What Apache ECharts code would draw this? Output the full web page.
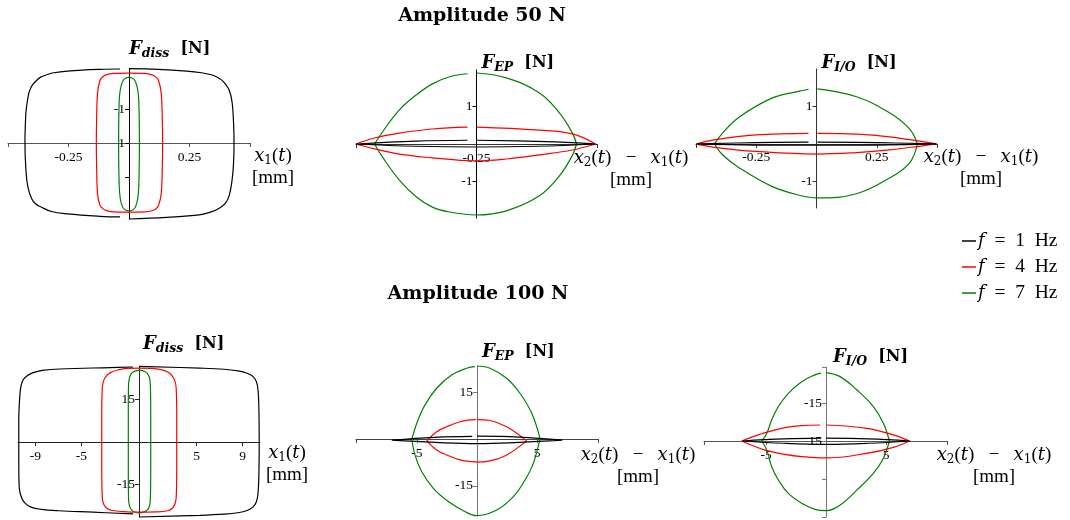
<!DOCTYPE html>
<html>
<head>
<meta charset="utf-8">
<script src="https://cdn.jsdelivr.net/npm/echarts@6/dist/echarts.min.js"></script>
<style>
  html, body { margin: 0; padding: 0; background: #fff; }
  #chart { width: 1070px; height: 520px; }
</style>
</head>
<body>
<div id="chart"></div>
<script>
// ---------- legend ----------
const freqNames = ['f = 1 Hz', 'f = 4 Hz', 'f = 7 Hz'];
const freqColors = ['#000000', '#ff0000', '#008000'];

// ---------- axis ranges, ticks and tick labels ----------
// Amplitude 50 N : dissipative force vs x1
const dissX50Range = [-0.5, 0.5];
const dissY50Range = [-2.24, 2.18];
const dissX50Ticks = [-0.5, -0.25, 0.25, 0.5];
const dissX50LabelAt = [-0.25, 0.25];
const dissX50Labels = ['-0.25', '0.25'];
const dissY50Ticks = [1, 0, -1];
const dissY50LabelAt = [1, 0];
const dissY50Labels = ['-1', '1'];

// Amplitude 50 N : F_EP vs x2 - x1
const epX50Range = [-0.5, 0.5];
const epY50Range = [-1.97, 1.97];
const epX50Ticks = [-0.5, 0.5];
const epX50LabelAt = [0];
const epX50Labels = ['-0.25'];
const epY50Ticks = [1, -1];
const epY50LabelAt = [1, -1];
const epY50Labels = ['1', '-1'];

// Amplitude 50 N : F_I/O vs x2 - x1
const ioX50Range = [-0.5, 0.5];
const ioY50Range = [-1.71, 2.0];
const ioX50Ticks = [-0.5, -0.25, 0.25, 0.5];
const ioX50LabelAt = [-0.25, 0.25];
const ioX50Labels = ['-0.25', '0.25'];
const ioY50Ticks = [1, -1];
const ioY50LabelAt = [1, -1];
const ioY50Labels = ['1', '-1'];

// Amplitude 100 N : dissipative force vs x1
const dissX100Range = [-10.52, 10.52];
const dissY100Range = [-26.5, 26.5];
const dissX100Ticks = [-9, -5, 5, 9];
const dissX100LabelAt = [-9, -5, 5, 9];
const dissX100Labels = ['-9', '-5', '5', '9'];
const dissY100Ticks = [15, -15];
const dissY100LabelAt = [15, -15];
const dissY100Labels = ['15', '-15'];

// Amplitude 100 N : F_EP vs x2 - x1
const epX100Range = [-10.08, 10.08];
const epY100Range = [-24.6, 23.3];
const epX100Ticks = [-10.08, -5, 5, 10.08];
const epX100LabelAt = [-5, 5];
const epX100Labels = ['-5', '5'];
const epY100Ticks = [15, -15];
const epY100LabelAt = [15, -15];
const epY100Labels = ['15', '-15'];

// Amplitude 100 N : F_I/O vs x2 - x1
const ioX100Range = [-10.17, 10.08];
const ioY100Range = [-30, 29.2];
const ioX100Ticks = [-10.17, -5, 5, 10.08];
const ioX100LabelAt = [-5, 5];
const ioX100Labels = ['-5', '5'];
const ioY100Ticks = [29.2, 15, 0, -15, -30];
const ioY100LabelAt = [15, 0];
const ioY100Labels = ['-15', '15'];

// ---------- hysteresis loops: [displacement, force] ----------
// Amplitude 50 N, dissipative force
const diss50F1 = [
  [0, 2.19], [0.12, 2.17], [0.238, 2.12], [0.30, 2.07], [0.34, 2.01], [0.361, 1.95], [0.382, 1.86],
  [0.398, 1.74], [0.414, 1.56], [0.426, 1.2], [0.432, 0.6], [0.434, 0], [0.432, -0.6], [0.426, -1.09],
  [0.414, -1.55], [0.398, -1.78], [0.373, -1.92], [0.34, -2.03], [0.291, -2.12], [0.156, -2.19], [0, -2.24],
  null,
  [-0.037, -2.18], [-0.119, -2.16], [-0.254, -2.09], [-0.32, -2.02], [-0.365, -1.88], [-0.385, -1.8],
  [-0.402, -1.64], [-0.418, -1.29], [-0.426, -0.79], [-0.430, 0], [-0.428, 0.6], [-0.425, 0.97],
  [-0.414, 1.47], [-0.403, 1.66], [-0.393, 1.76], [-0.381, 1.85], [-0.365, 1.94], [-0.34, 2.01],
  [-0.311, 2.07], [-0.254, 2.12], [-0.119, 2.17], [-0.037, 2.18]
];
const diss50F4 = [
  [0, 2.06], [0.066, 2.05], [0.098, 2.0], [0.112, 1.94], [0.122, 1.84], [0.133, 1.47], [0.138, 0.6],
  [0.139, 0], [0.138, -0.6], [0.133, -1.5], [0.122, -1.84], [0.112, -1.94], [0.098, -1.99],
  [0.066, -2.03], [0, -2.04], [-0.066, -2.03], [-0.098, -1.98], [-0.11, -1.92], [-0.12, -1.84],
  [-0.130, -1.5], [-0.134, -0.6], [-0.135, 0], [-0.134, 0.6], [-0.130, 1.47], [-0.12, 1.84],
  [-0.11, 1.94], [-0.098, 2.0], [-0.066, 2.05], [0, 2.06]
];
const diss50F7 = [
  [0, 1.94], [0.02, 1.88], [0.032, 1.7], [0.039, 1.4], [0.042, 0.8], [0.043, 0], [0.042, -0.8],
  [0.039, -1.45], [0.032, -1.78], [0.02, -1.95], [0, -2.0], [-0.02, -1.95], [-0.032, -1.78],
  [-0.039, -1.45], [-0.042, -0.8], [-0.043, 0], [-0.042, 0.8], [-0.039, 1.4], [-0.032, 1.7],
  [-0.02, 1.88], [0, 1.94]
];

// Amplitude 50 N, F_EP
const ep50F1 = [
  [0, 0.1], [0.25, 0.07], [0.42, 0.03], [0.495, 0], null,
  [0.495, 0], [0.25, -0.06], [0, -0.08], [-0.25, -0.06], [-0.5, 0], null,
  [-0.5, 0], [-0.25, 0.075], [-0.037, 0.1]
];
const ep50F4 = [
  [0, 0.45], [0.261, 0.37], [0.398, 0.27], [0.494, 0], null,
  [0.494, 0], [0.398, -0.16], [0.261, -0.29], [0.124, -0.4], [0, -0.45], [-0.037, -0.445],
  [-0.183, -0.37], [-0.32, -0.27], [-0.423, -0.13], [-0.5, 0], null,
  [-0.5, 0], [-0.423, 0.16], [-0.32, 0.29], [-0.183, 0.4], [-0.037, 0.45]
];
const ep50F7 = [
  [0, 1.89], [0.124, 1.76], [0.261, 1.36], [0.344, 0.83], [0.398, 0.29], [0.415, 0], null,
  [0.415, 0], [0.398, -0.3], [0.344, -0.85], [0.261, -1.38], [0.124, -1.78], [0, -1.89],
  [-0.112, -1.81], [-0.183, -1.68], [-0.249, -1.41], [-0.32, -0.96], [-0.39, -0.35], [-0.423, 0], null,
  [-0.423, 0], [-0.39, 0.32], [-0.32, 0.91], [-0.249, 1.31], [-0.183, 1.6], [-0.112, 1.79], [-0.037, 1.87]
];

// Amplitude 50 N, F_I/O
const io50F1 = [
  [0.004, 0.05], [0.25, 0.035], [0.498, 0], null,
  [0.498, 0], [0.25, -0.03], [0, -0.035], [-0.25, -0.03], [-0.498, 0], null,
  [-0.498, 0], [-0.25, 0.035], [-0.033, 0.05]
];
const io50F4 = [
  [0.004, 0.28], [0.166, 0.26], [0.303, 0.19], [0.44, 0.06], [0.498, 0], null,
  [0.498, 0], [0.44, -0.05], [0.303, -0.16], [0.166, -0.23], [0.004, -0.27], [-0.25, -0.2],
  [-0.425, -0.09], [-0.498, 0], null,
  [-0.498, 0], [-0.425, 0.11], [-0.25, 0.24], [-0.033, 0.28]
];
const io50F7 = [
  [0.004, 1.47], [0.166, 1.26], [0.303, 0.83], [0.386, 0.4], [0.419, 0], null,
  [0.419, 0], [0.386, -0.51], [0.303, -0.91], [0.166, -1.33], [0.004, -1.44], [-0.071, -1.37],
  [-0.183, -1.14], [-0.32, -0.64], [-0.39, -0.29], [-0.423, 0], null,
  [-0.423, 0], [-0.39, 0.29], [-0.32, 0.72], [-0.183, 1.23], [-0.071, 1.41], [-0.033, 1.46]
];

// Amplitude 100 N, dissipative force
const diss100F1 = [
  [0, 26.7], [5.3, 26.1], [7.4, 25.7], [8.6, 25.1], [9.4, 24.3], [9.9, 23.2], [10.2, 21.4],
  [10.35, 18.4], [10.43, 10], [10.45, 0], [10.43, -10], [10.35, -18], [10.2, -21.2], [9.9, -23],
  [9.4, -24.2], [8.6, -25], [7.4, -25.5], [5.3, -25.9], [0, -26.5],
  null,
  [-0.52, -25.4], [-4.0, -24.8], [-7.0, -24.3], [-8.5, -23.8], [-9.4, -23.0], [-9.91, -21.6],
  [-10.2, -19.8], [-10.41, -16.3], [-10.45, -8], [-10.45, 0], [-10.45, 8], [-10.41, 13.1],
  [-10.29, 19.1], [-10.1, 21.7], [-9.75, 23.3], [-9.2, 24.5], [-8.4, 25.3], [-6.87, 25.8],
  [-2.52, 26.3], [-0.52, 26.5]
];
const diss100F4 = [
  [0, 26.1], [1.07, 26.0], [1.9, 25.6], [2.5, 24.7], [2.9, 23.3], [3.13, 21.4], [3.23, 19.1],
  [3.28, 10], [3.28, 0], [3.28, -10], [3.23, -19.8], [3.12, -21.9], [2.9, -23.4], [2.5, -24.3],
  [1.4, -24.7], [0, -24.8], [-1.37, -24.6], [-2.3, -24.2], [-2.8, -23.4], [-3.08, -21.9],
  [-3.19, -19.8], [-3.24, -10], [-3.24, 0], [-3.24, 10], [-3.19, 19.1], [-3.08, 21.6],
  [-2.85, 23.3], [-2.45, 24.6], [-1.8, 25.5], [-1.07, 26.0], [0, 26.1]
];
const diss100F7 = [
  [0, 25.4], [0.5, 24.9], [0.78, 23.9], [0.93, 22.3], [0.99, 20], [1.02, 10], [1.02, 0], [1.02, -10],
  [0.99, -20], [0.93, -22.2], [0.78, -23.8], [0.5, -24.6], [0, -25.1], [-0.5, -24.5], [-0.72, -23.6],
  [-0.85, -22.2], [-0.91, -20], [-0.93, -10], [-0.93, 0], [-0.93, 10], [-0.91, 20], [-0.85, 22.3],
  [-0.72, 23.8], [-0.49, 24.8], [0, 25.4]
];

// Amplitude 100 N, F_EP
const ep100F1 = [
  [0, 0.9], [3.5, 0.6], [7.1, -0.4], null,
  [7.1, -0.4], [3.5, -1.1], [0, -1.5], [-3.5, -1.1], [-7.1, -0.4], null,
  [-7.1, -0.4], [-3.5, 0.5], [-0.4, 0.8]
];
const ep100F4 = [
  [0, 6.2], [1.08, 5.9], [2.47, 3.9], [4.14, -0.6], null,
  [4.14, -0.6], [2.47, -5.1], [1.08, -7.0], [0, -7.4], [-0.58, -7.2], [-1.42, -6.7], [-2.53, -5.1],
  [-3.36, -3.5], [-4.19, -0.6], null,
  [-4.19, -0.6], [-3.36, 2.3], [-2.53, 3.9], [-1.42, 5.5], [-0.58, 6.1], [-0.1, 6.2]
];
const ep100F7 = [
  [0, 23.3], [1.08, 22.6], [2.47, 19.4], [3.58, 14.6], [4.56, 8.2], [5.25, 0.2], null,
  [5.25, 0.2], [4.69, -7.8], [4.0, -13.1], [3.03, -18.4], [1.64, -22.7], [0, -24.5], [-1.14, -22.9],
  [-2.39, -20.0], [-3.64, -15.8], [-4.61, -10.4], [-5.17, -5.1], [-5.42, 0], null,
  [-5.42, 0], [-4.97, 5.5], [-4.33, 10.9], [-3.36, 16.2], [-2.11, 20.4], [-0.86, 22.6], [-0.17, 23.1]
];

// Amplitude 100 N, F_I/O
const io100F1 = [
  [0, 1.1], [3.5, 0.8], [7, 0], null,
  [7, 0], [3.5, -0.9], [0, -1.3], [-3.5, -0.9], [-7, 0], null,
  [-7, 0], [-3.5, 0.8], [-0.4, 1.1]
];
const io100F4 = [
  [0, 6.3], [3.39, 5.0], [5.61, 2.4], [6.95, 0], null,
  [6.95, 0], [5.61, -2.5], [3.39, -4.9], [0, -6.7], [-2.03, -6.2], [-3.42, -5.3], [-5.08, -3.6],
  [-7.03, 0], null,
  [-7.03, 0], [-5.08, 3.3], [-3.42, 5.3], [-2.03, 6.1], [-0.5, 6.3]
];
const io100F7 = [
  [0, 27.0], [1.17, 25.4], [2.56, 20.2], [3.94, 13.6], [4.78, 7.0], [5.28, 0], null,
  [5.28, 0], [4.78, -6.8], [3.94, -12.8], [2.56, -19.4], [1.17, -25.3], [0, -27.5], [-0.92, -27.0],
  [-2.03, -24.6], [-3.14, -20.7], [-3.97, -15.4], [-4.53, -10.2], [-4.94, -3.6], [-5.36, 0], null,
  [-5.36, 0], [-4.94, 3.0], [-4.53, 8.3], [-3.97, 13.6], [-3.14, 18.8], [-2.03, 23.4], [-0.92, 26.1],
  [-0.42, 26.8]
];

// ---------- text styles ----------
const MATH = 'DejaVu Serif';
const ROMAN = 'Liberation Serif';
const nameRich = {
  mi: { fontFamily: MATH, fontStyle: 'italic', fontSize: 18, lineHeight: 22, color: '#000' },
  sb: { fontFamily: MATH, fontSize: 12, lineHeight: 12, verticalAlign: 'bottom', color: '#000' },
  rm: { fontFamily: ROMAN, fontSize: 19, lineHeight: 22, color: '#000' },
  bi: { fontFamily: MATH, fontStyle: 'italic', fontWeight: 'bold', fontSize: 18, lineHeight: 22, color: '#000' },
  bs: { fontFamily: MATH, fontStyle: 'italic', fontWeight: 'bold', fontSize: 12.5, lineHeight: 12, verticalAlign: 'bottom', color: '#000' },
  bb: { fontFamily: MATH, fontWeight: 'bold', fontSize: 16, lineHeight: 22, color: '#000' }
};
const nameX1 = '{mi|x}{sb|1}{rm|(}{mi|t}{rm|)}\n{rm|[mm]}';
const nameX21 = '{mi|x}{sb|2}{rm|(}{mi|t}{rm|)   −   }{mi|x}{sb|1}{rm|(}{mi|t}{rm|)}\n{rm|[mm]}';
const nameDiss = '{bi|F}{bs|diss}{bb|  [N]}';
const nameEP = '{bi|F}{bs|EP}{bb|  [N]}';
const nameIO = '{bi|F}{bs|I/O}{bb|  [N]}';

// ---------- panel layout (grid boxes in px) ----------
const panels = [
  { box: [8, 69, 250, 219], xr: dissX50Range, yr: dissY50Range,
    xt: dissX50Ticks, xl: [dissX50LabelAt, dissX50Labels], yt: dissY50Ticks, yl: [dissY50LabelAt, dissY50Labels],
    xName: nameX1, xGap: 23, xPad: 2, yName: nameDiss, yGap: 9, yPad: 0,
    xColor: '#555', yColor: '#000', loops: [diss50F1, diss50F4, diss50F7] },
  { box: [356, 70, 597, 218], xr: epX50Range, yr: epY50Range,
    xt: epX50Ticks, xl: [epX50LabelAt, epX50Labels], yt: epY50Ticks, yl: [epY50LabelAt, epY50Labels],
    xName: nameX21, xGap: 34, xPad: 3, yName: nameEP, yGap: -4, yPad: 5,
    xColor: '#333', yColor: '#000', loops: [ep50F1, ep50F4, ep50F7] },
  { box: [696, 69, 937, 208], xr: ioX50Range, yr: ioY50Range,
    xt: ioX50Ticks, xl: [ioX50LabelAt, ioX50Labels], yt: ioY50Ticks, yl: [ioY50LabelAt, ioY50Labels],
    xName: nameX21, xGap: 44, xPad: 2, yName: nameIO, yGap: -5, yPad: 5,
    xColor: '#333', yColor: '#333', loops: [io50F1, io50F4, io50F7] },
  { box: [18, 367, 260, 517], xr: dissX100Range, yr: dissY100Range,
    xt: dissX100Ticks, xl: [dissX100LabelAt, dissX100Labels], yt: dissY100Ticks, yl: [dissY100LabelAt, dissY100Labels],
    xName: nameX1, xGap: 27, xPad: 0, yName: nameDiss, yGap: 12, yPad: 4,
    xColor: '#222', yColor: '#222', loops: [diss100F1, diss100F4, diss100F7] },
  { box: [356, 366, 598, 516], xr: epX100Range, yr: epY100Range,
    xt: epX100Ticks, xl: [epX100LabelAt, epX100Labels], yt: epY100Ticks, yl: [epY100LabelAt, epY100Labels],
    xName: nameX21, xGap: 40, xPad: 5, yName: nameEP, yGap: 3, yPad: 5,
    xColor: '#444', yColor: '#777', loops: [ep100F1, ep100F4, ep100F7] },
  { box: [704, 367, 947, 517], xr: ioX100Range, yr: ioY100Range,
    xt: ioX100Ticks, xl: [ioX100LabelAt, ioX100Labels], yt: ioY100Ticks, yl: [ioY100LabelAt, ioY100Labels],
    xName: nameX21, xGap: 47, xPad: 3, yName: nameIO, yGap: -1, yPad: 7,
    xColor: '#555', yColor: '#777', loops: [io100F1, io100F4, io100F7] }
];

const W = 1070, H = 520;
const tickFont = { fontFamily: ROMAN, fontSize: 13.5, color: '#000' };

function labelFormatter(pair) {
  const at = pair[0], txt = pair[1];
  return function (v) {
    let best = 0;
    for (let i = 1; i < at.length; i++) {
      if (Math.abs(at[i] - v) < Math.abs(at[best] - v)) best = i;
    }
    return txt[best];
  };
}

const grids = [], xAxes = [], yAxes = [], series = [];
panels.forEach((p, i) => {
  const [l, t, r, b] = p.box;
  const w = r - l, h = b - t;
  // axes cross at the origin: shift them from the grid edge to the zero line
  const xShift = -(0 - p.yr[0]) / (p.yr[1] - p.yr[0]) * h;
  const yShift = -(0 - p.xr[0]) / (p.xr[1] - p.xr[0]) * w;
  grids.push({ left: l, top: t, width: w, height: h, containLabel: false, outerBoundsMode: 'none' });
  xAxes.push({
    type: 'value', gridIndex: i, min: p.xr[0], max: p.xr[1], position: 'bottom', offset: xShift,
    axisLine: { onZero: false, lineStyle: { color: p.xColor, width: 1 } },
    axisTick: { show: true, customValues: p.xt, length: 4, lineStyle: { color: p.xColor } },
    axisLabel: { customValues: p.xl[0], formatter: labelFormatter(p.xl), margin: 7, ...tickFont },
    splitLine: { show: false },
    name: p.xName, nameLocation: 'end', nameGap: p.xGap,
    nameTextStyle: { align: 'center', verticalAlign: 'top', padding: [p.xPad, 0, 0, 0], rich: nameRich }
  });
  yAxes.push({
    type: 'value', gridIndex: i, min: p.yr[0], max: p.yr[1], position: 'left', offset: yShift,
    axisLine: { onZero: false, lineStyle: { color: p.yColor, width: 1 } },
    axisTick: { show: true, customValues: p.yt, length: 4, lineStyle: { color: p.yColor } },
    axisLabel: { customValues: p.yl[0], formatter: labelFormatter(p.yl), margin: 4, ...tickFont },
    splitLine: { show: false },
    name: p.yName, nameLocation: 'end', nameGap: p.yGap,
    nameTextStyle: { align: 'left', verticalAlign: 'bottom', padding: [0, 0, 0, p.yPad], rich: nameRich }
  });
  p.loops.forEach((data, k) => {
    series.push({
      type: 'line', name: freqNames[k], xAxisIndex: i, yAxisIndex: i,
      data: data, showSymbol: false, smooth: 0.4, connectNulls: false, clip: false,
      lineStyle: { color: freqColors[k], width: 1.2 },
      itemStyle: { color: freqColors[k] },
      silent: true, z: 3 - k
    });
  });
});

const legendRich = {
  mi: { fontFamily: MATH, fontStyle: 'italic', fontSize: 18, color: '#000' },
  rm: { fontFamily: ROMAN, fontSize: 19.5, color: '#000' }
};

const chart = echarts.init(document.getElementById('chart'), null, { renderer: 'canvas', width: W, height: H });
chart.setOption({
  animation: false,
  backgroundColor: '#fff',
  title: [
    { text: 'Amplitude 50 N', left: 477, top: 2, textAlign: 'center',
      textStyle: { fontFamily: MATH, fontWeight: 'bold', fontSize: 19, color: '#000' } },
    { text: 'Amplitude 100 N', left: 473, top: 280, textAlign: 'center',
      textStyle: { fontFamily: MATH, fontWeight: 'bold', fontSize: 19, color: '#000' } }
  ],
  legend: {
    orient: 'vertical', left: 962, top: 231, padding: 0,
    icon: 'rect', itemWidth: 14, itemHeight: 1.5, itemGap: 6,
    data: freqNames,
    selectedMode: false,
    formatter: function (n) {
      const parts = n.split(' ');
      return '{mi|' + parts[0] + '}{rm|  ' + parts[1] + '  ' + parts[2] + '  ' + parts[3] + '}';
    },
    textStyle: { rich: legendRich, padding: [0, 0, 0, -3] }
  },
  grid: grids,
  xAxis: xAxes,
  yAxis: yAxes,
  series: series
});
</script>
</body>
</html>
